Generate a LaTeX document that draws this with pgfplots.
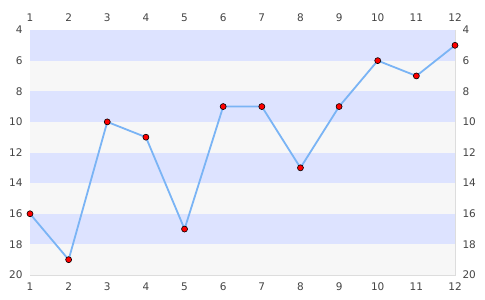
\documentclass[border=0pt]{standalone}
\usepackage{pgfplots}
\pgfplotsset{compat=1.18}
\usepackage{fontspec}
\setmainfont{DejaVu Sans}
\definecolor{band}{HTML}{DDE3FF}
\definecolor{bandg}{HTML}{F7F7F7}
\definecolor{line}{HTML}{7AB4F5}
\definecolor{frame}{HTML}{DDDDDD}
\definecolor{lbl}{HTML}{444444}
\begin{document}
\begin{tikzpicture}[x=1pt,y=1pt]
\path[use as bounding box,fill=white] (0,0) rectangle (485,300);
\pgfplotsset{common/.style={at={(30pt,25pt)}, anchor=south west, scale only axis,
  width=425pt, height=245pt, xmin=1, xmax=12, ymin=4, ymax=20, y dir=reverse,
  xtick={1,...,12}, ytick={4,6,...,20}, major tick length=0pt,
  axis line style={draw=frame},
  ticklabel style={font=\fontsize{10.5}{12}\selectfont, text=lbl},
  /pgf/number format/assume math mode=true}}
\begin{axis}[common,
  yticklabel style={xshift=-4pt}, xticklabel style={yshift=-4pt}]
\fill[band]  (axis cs:1,4)  rectangle (axis cs:12,6);
\fill[bandg] (axis cs:1,6)  rectangle (axis cs:12,8);
\fill[band]  (axis cs:1,8)  rectangle (axis cs:12,10);
\fill[bandg] (axis cs:1,10) rectangle (axis cs:12,12);
\fill[band]  (axis cs:1,12) rectangle (axis cs:12,14);
\fill[bandg] (axis cs:1,14) rectangle (axis cs:12,16);
\fill[band]  (axis cs:1,16) rectangle (axis cs:12,18);
\fill[bandg] (axis cs:1,18) rectangle (axis cs:12,20);
\addplot[line, line width=1.8pt, mark=*, mark size=3pt,
  mark options={fill=red, draw=black, line width=0.6pt}]
  coordinates {(1,16) (2,19) (3,10) (4,11) (5,17) (6,9) (7,9) (8,13) (9,9) (10,6) (11,7) (12,5)};
\end{axis}
\begin{axis}[common, axis line style={draw=none}, xticklabel pos=right, yticklabel pos=right,
  yticklabel style={xshift=4pt}, xticklabel style={yshift=5pt}]
\end{axis}
\end{tikzpicture}
\end{document}
